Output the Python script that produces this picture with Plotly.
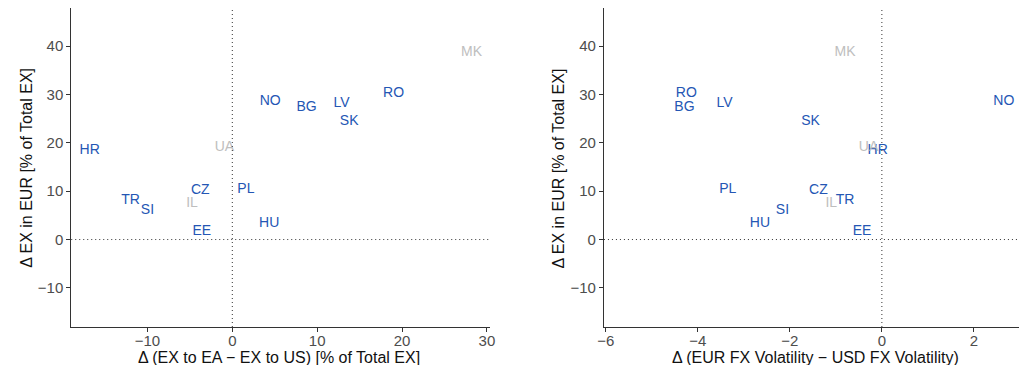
import plotly.graph_objects as go

countries = ["HR", "TR", "SI", "IL", "CZ", "EE", "UA", "PL", "HU", "NO", "BG", "LV", "SK", "RO", "MK"]
greyed = ["IL", "UA", "MK"]
ex_ea_minus_us = [-16.8, -12.0, -10.0, -4.75, -3.77, -3.6, -0.93, 1.6, 4.35, 4.47, 8.75, 12.87, 13.77, 19.0, 28.2]
ex_in_eur = [18.4, 8.1, 6.1, 7.5, 10.2, 1.7, 19.1, 10.4, 3.3, 28.5, 27.4, 28.2, 24.5, 30.3, 38.6]
fx_vol_diff = [-0.09, -0.80, -2.16, -1.10, -1.38, -0.43, -0.29, -3.35, -2.65, 2.65, -4.29, -3.42, -1.55, -4.25, -0.80]

y_ticks = [-10, 0, 10, 20, 30, 40]
x1_ticks = [-10, 0, 10, 20, 30]
x2_ticks = [-6, -4, -2, 0, 2]

BLUE = "#2456B4"
GREY = "#BEBEBE"
colors = [GREY if c in greyed else BLUE for c in countries]

fig = go.Figure()
fig.add_trace(go.Scatter(x=ex_ea_minus_us, y=ex_in_eur, text=countries, mode="text",
                         textfont=dict(color=colors, size=14, family="Liberation Sans"),
                         xaxis="x", yaxis="y", cliponaxis=False, hoverinfo="skip"))
fig.add_trace(go.Scatter(x=fx_vol_diff, y=ex_in_eur, text=countries, mode="text",
                         textfont=dict(color=colors, size=14, family="Liberation Sans"),
                         xaxis="x2", yaxis="y2", cliponaxis=False, hoverinfo="skip"))

W, H = 1024, 365
ytop, ybot = 1 - 8 / H, 1 - 327 / H
axis_common = dict(showgrid=False, zeroline=False, showline=True, linecolor="#333333", linewidth=1,
                   ticks="outside", ticklen=4, tickcolor="#333333",
                   tickfont=dict(size=15, color="#4D4D4D", family="Liberation Sans"))

fig.update_layout(
    width=W, height=H, margin=dict(l=0, r=0, t=0, b=0),
    paper_bgcolor="white", plot_bgcolor="white", showlegend=False,
    font=dict(family="Liberation Sans"),
    xaxis=dict(domain=[65 / W, 489 / W], range=[-18.98, 30.4], tickvals=x1_ticks, anchor="y",
               ticklabelstandoff=-4, **axis_common),
    yaxis=dict(domain=[ybot, ytop], range=[-18.1, 47.9], tickvals=y_ticks, anchor="x", **axis_common),
    xaxis2=dict(domain=[604 / W, 1.0], range=[-6.04, 2.98], tickvals=x2_ticks, anchor="y2",
                ticklabelstandoff=-4, **axis_common),
    yaxis2=dict(domain=[ybot, ytop], range=[-18.1, 47.9], tickvals=y_ticks, anchor="x2", **axis_common),
)

dot = dict(color="#333333", width=1, dash="1px,3px")
fig.add_shape(type="line", xref="x", yref="paper", x0=0, x1=0, y0=ybot, y1=ytop, line=dot)
fig.add_shape(type="line", xref="paper", yref="y", x0=65 / W, x1=489 / W, y0=0, y1=0, line=dot)
fig.add_shape(type="line", xref="x2", yref="paper", x0=0, x1=0, y0=ybot, y1=ytop, line=dot)
fig.add_shape(type="line", xref="paper", yref="y2", x0=604 / W, x1=1.0, y0=0, y1=0, line=dot)

title_font = dict(size=16, color="#111111", family="Liberation Sans")
fig.add_annotation(text="Δ (EX to EA − EX to US) [% of Total EX]", xref="paper", yref="paper",
                   x=275 / W, y=1 - 357 / H, showarrow=False, font=title_font,
                   xanchor="center", yanchor="middle")
fig.add_annotation(text="Δ (EUR FX Volatility − USD FX Volatility)", xref="paper", yref="paper",
                   x=818 / W, y=1 - 357 / H, showarrow=False, font=title_font,
                   xanchor="center", yanchor="middle")
for xp in (19 / W, 558 / W):
    fig.add_annotation(text="Δ EX in EUR [% of Total EX]", xref="paper", yref="paper",
                       x=xp, y=1 - 168 / H, showarrow=False, font=title_font, textangle=-90,
                       xanchor="center", yanchor="middle")

fig.write_html("out.html")
